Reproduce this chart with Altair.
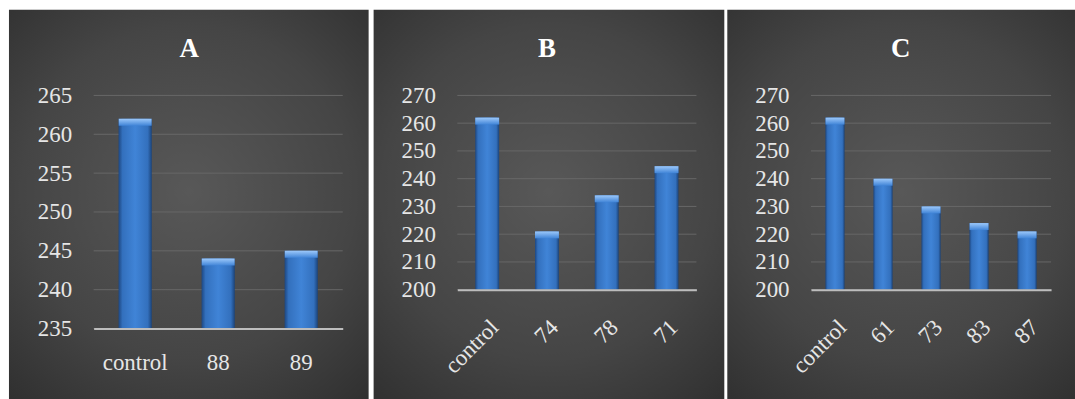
import altair as alt
import pandas as pd

# ---- data -------------------------------------------------------------
titles = ["A", "B", "C"]

a_labels = ["control", "88", "89"]
a_values = [262, 244, 245]
a_ticks = [235, 240, 245, 250, 255, 260, 265]

b_labels = ["control", "74", "78", "71"]
b_values = [262, 221, 234, 244.5]
b_ticks = [200, 210, 220, 230, 240, 250, 260, 270]

c_labels = ["control", "61", "73", "83", "87"]
c_values = [262, 240, 230, 224, 221]
c_ticks = [200, 210, 220, 230, 240, 250, 260, 270]

# ---- styles -----------------------------------------------------------
FONT = "Liberation Serif"
LABEL_COLOR = "#e6e6e6"

bg_fill = alt.RadialGradient(
    gradient="radial",
    x1=0.5, y1=0.45, r1=0.0,
    x2=0.5, y2=0.45, r2=0.75,
    stops=[
        alt.GradientStop(offset=0.0, color="#585858"),
        alt.GradientStop(offset=0.55, color="#454545"),
        alt.GradientStop(offset=1.0, color="#2a2a2a"),
    ],
)

bar_fill = alt.LinearGradient(
    gradient="linear",
    x1=0, y1=0, x2=1, y2=0,
    stops=[
        alt.GradientStop(offset=0.0, color="#1d4782"),
        alt.GradientStop(offset=0.12, color="#3370bd"),
        alt.GradientStop(offset=0.5, color="#4084d7"),
        alt.GradientStop(offset=0.88, color="#3370bd"),
        alt.GradientStop(offset=1.0, color="#1b4379"),
    ],
)

bevel_fill = alt.LinearGradient(
    gradient="linear",
    x1=0, y1=0, x2=0, y2=1,
    stops=[
        alt.GradientStop(offset=0.0, color="#9cc8fa"),
        alt.GradientStop(offset=1.0, color="#4084d7"),
    ],
)


def panel(labels, values, ticks, title, width, height, rect_x, rect_x2,
          title_x, angle, label_pad, band_px):
    df = pd.DataFrame({"label": labels, "value": values})
    tick_df = pd.DataFrame({"t": ticks})
    one = pd.DataFrame({"k": [0]})
    yscale = alt.Scale(domain=[ticks[0], ticks[-1]], nice=False, zero=False)
    xscale = alt.Scale(paddingInner=0.6, paddingOuter=0.3)

    if angle == 0:
        xaxis = alt.Axis(
            title=None, labelAngle=0, labelPadding=label_pad, zindex=1,
            labelFont=FONT,
        )
    else:
        xaxis = alt.Axis(
            title=None, labelAngle=angle, labelAlign="right",
            labelBaseline="top", labelPadding=label_pad, zindex=1,
            labelFont=FONT,
        )
    yaxis = alt.Axis(
        title=None, values=ticks, labelFontSize=23, labelPadding=22,
        domain=False, zindex=1, labelFont=FONT,
    )

    bg = alt.Chart(one).mark_rect(fill=bg_fill, clip=False).encode(
        x=alt.value(rect_x), x2=alt.value(rect_x2),
        y=alt.value(-86), y2=alt.value(320),
    )
    grid = alt.Chart(tick_df).mark_rule(color="#676767", strokeWidth=1).encode(
        y=alt.Y("t:Q", scale=yscale, axis=yaxis),
        x=alt.value(0), x2=alt.value(width),
    )
    bars = alt.Chart(df).mark_bar(fill=bar_fill).encode(
        x=alt.X("label:N", sort=labels, scale=xscale, axis=xaxis),
        y=alt.Y("value:Q", scale=yscale, axis=yaxis),
        y2=alt.datum(ticks[0]),
    )
    bevel = alt.Chart(df).mark_tick(
        fill=bevel_fill, thickness=7, size=band_px, yOffset=3.5, opacity=1
    ).encode(
        x=alt.X("label:N", sort=labels, scale=xscale, axis=xaxis),
        y=alt.Y("value:Q", scale=yscale, axis=yaxis),
    )
    ttl = alt.Chart(one).mark_text(
        font=FONT, fontSize=27, fontWeight="bold", color="#ffffff",
        align="center", baseline="alphabetic",
    ).encode(
        x=alt.value(title_x), y=alt.value(-39), text=alt.value(title),
    )
    return alt.layer(bg, grid, bars, bevel, ttl).properties(
        width=width, height=height
    )


pA = panel(a_labels, a_values, a_ticks, titles[0], 250, 234, -85, 276,
           96, 0, 23, 33)
pB = panel(b_labels, b_values, b_ticks, titles[1], 240, 195, -84, 268,
           90, -45, 26, 24)
pC = panel(c_labels, c_values, c_ticks, titles[2], 241, 195, -84, 265,
           90, -45, 26, 19)

chart = alt.hconcat(pA, pB, pC, spacing=115, bounds="flush").properties(
    padding={"left": 9, "top": 9, "right": 0, "bottom": 0},
    background="#ffffff",
).configure_view(stroke=None).configure_axis(
    labelFont=FONT, labelFontSize=23, labelColor=LABEL_COLOR,
    ticks=False, grid=False, domainColor="#bdbdbd", domainWidth=2,
    labelLimit=300,
)

chart.save("out.html", embed_options={"renderer": "svg", "actions": False})
